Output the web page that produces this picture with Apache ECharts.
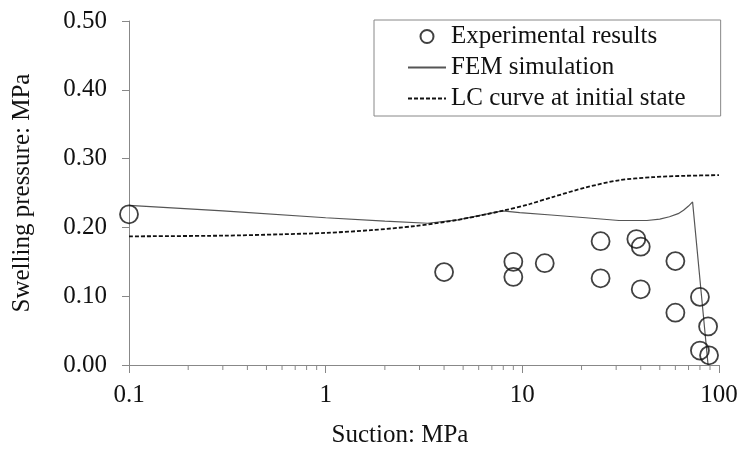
<!DOCTYPE html>
<html>
<head>
<meta charset="utf-8">
<script src="https://cdn.jsdelivr.net/npm/echarts@6/dist/echarts.min.js"></script>
<style>
html, body { margin: 0; padding: 0; background: #fff; }
#main { width: 743px; height: 453px; }
</style>
</head>
<body>
<div id="main"></div>
<script>
var expData = [
	[0.1, 0.219], [4, 0.135], [9, 0.150], [9, 0.128], [13, 0.148],
	[25, 0.180], [25, 0.126], [38, 0.183], [40, 0.172], [40, 0.110],
	[60, 0.151], [60, 0.076], [80, 0.099], [88, 0.056], [80, 0.021], [89, 0.014]
];
var femData = [
	[0.1, 0.232], [0.3, 0.224], [1, 0.214], [2, 0.209], [3.3, 0.206],
	[4.7, 0.211], [6, 0.217], [7.9, 0.224], [9.7, 0.2215], [14, 0.218],
	[21, 0.214], [31, 0.210], [43, 0.210], [50, 0.212], [56, 0.2155],
	[62, 0.220], [66, 0.225], [70, 0.231], [73.4, 0.237], [88, 0.0]
];
var lcData = [
	[0.1, 0.187], [0.3, 0.188], [0.6, 0.190], [1, 0.192], [1.7, 0.196],
	[2.85, 0.202], [4.7, 0.211], [7.9, 0.224], [10.9, 0.234], [14.4, 0.2445],
	[21, 0.258], [31, 0.2685], [46, 0.273], [68, 0.275], [100, 0.276]
];
var minorTicks = [0.2, 0.3, 0.4, 0.5, 0.6, 0.7, 0.8, 0.9, 2, 3, 4, 5, 6, 7, 8, 9, 20, 30, 40, 50, 60, 70, 80, 90];

var font = "'Liberation Serif', 'Times New Roman', serif";
var chartDom = document.getElementById('main');
var myChart = echarts.init(chartDom);
var option;
option = {
	animation: false,
	textStyle: { fontFamily: font, color: '#111' },
	grid: { left: 129, right: 24, top: 21, bottom: 85 },
	legend: {
		orient: 'vertical',
		left: 374,
		top: 20,
		padding: [4, 35, 5, 33],
		borderColor: '#888',
		borderWidth: 1,
		itemWidth: 38,
		itemHeight: 13,
		itemGap: 6,
		textStyle: { fontFamily: font, fontSize: 25, color: '#111' },
		data: [
			{ name: 'Experimental results' },
			{ name: 'FEM simulation', itemStyle: { opacity: 0 } },
			{ name: 'LC curve at initial state', itemStyle: { opacity: 0 } }
		]
	},
	xAxis: {
		type: 'log',
		logBase: 10,
		min: 0.1,
		max: 100,
		name: 'Suction: MPa',
		nameLocation: 'middle',
		nameGap: 58,
		nameTextStyle: { fontFamily: font, fontSize: 25, color: '#111', padding: [0, 48, 0, 0] },
		axisLine: { lineStyle: { color: '#888' } },
		axisTick: { length: 8, lineStyle: { color: '#888' } },
		axisLabel: {
			margin: 18,
			fontFamily: font, fontSize: 25, color: '#111',
			formatter: function (v) { return String(+v.toPrecision(3)); }
		},
		splitLine: { show: false }
	},
	yAxis: {
		type: 'value',
		min: 0,
		max: 0.5,
		interval: 0.1,
		name: 'Swelling pressure: MPa',
		nameLocation: 'middle',
		nameGap: 94,
		nameTextStyle: { fontFamily: font, fontSize: 25, color: '#111' },
		axisLine: { show: true, lineStyle: { color: '#888' } },
		axisTick: { show: true, length: 7, lineStyle: { color: '#888' } },
		axisLabel: {
			margin: 22,
			fontFamily: font, fontSize: 25, color: '#111',
			formatter: function (v) { return v.toFixed(2); }
		},
		splitLine: { show: false }
	},
	series: [{
			name: 'FEM simulation',
			type: 'line',
			data: femData,
			symbol: 'none',
			lineStyle: { color: '#555', width: 1.2 },
			itemStyle: { color: '#555' },
			z: 2
		},
		{
			name: 'LC curve at initial state',
			type: 'line',
			data: lcData,
			symbol: 'none',
			smooth: 0.3,
			lineStyle: { color: '#111', width: 1.8, type: [4, 2] },
			itemStyle: { color: '#111' },
			z: 3
		},
		{
			name: 'Experimental results',
			type: 'scatter',
			data: expData,
			symbol: 'circle',
			symbolSize: 18,
			itemStyle: { color: 'rgba(0,0,0,0)', borderColor: '#111', borderWidth: 1.8 },
			z: 4
		},
		{
			name: 'minor',
			type: 'custom',
			silent: true,
			clip: false,
			data: minorTicks.map(function (v) { return [v, 0]; }),
			encode: { x: 0, y: 1 },
			renderItem: function (params, api) {
				var p = api.coord([api.value(0), 0]);
				return {
					type: 'line',
					shape: { x1: p[0], y1: p[1], x2: p[0], y2: p[1] + 5 },
					style: { stroke: '#888', lineWidth: 1 }
				};
			}
		}
	]
};
option && myChart.setOption(option);
</script>
</body>
</html>
